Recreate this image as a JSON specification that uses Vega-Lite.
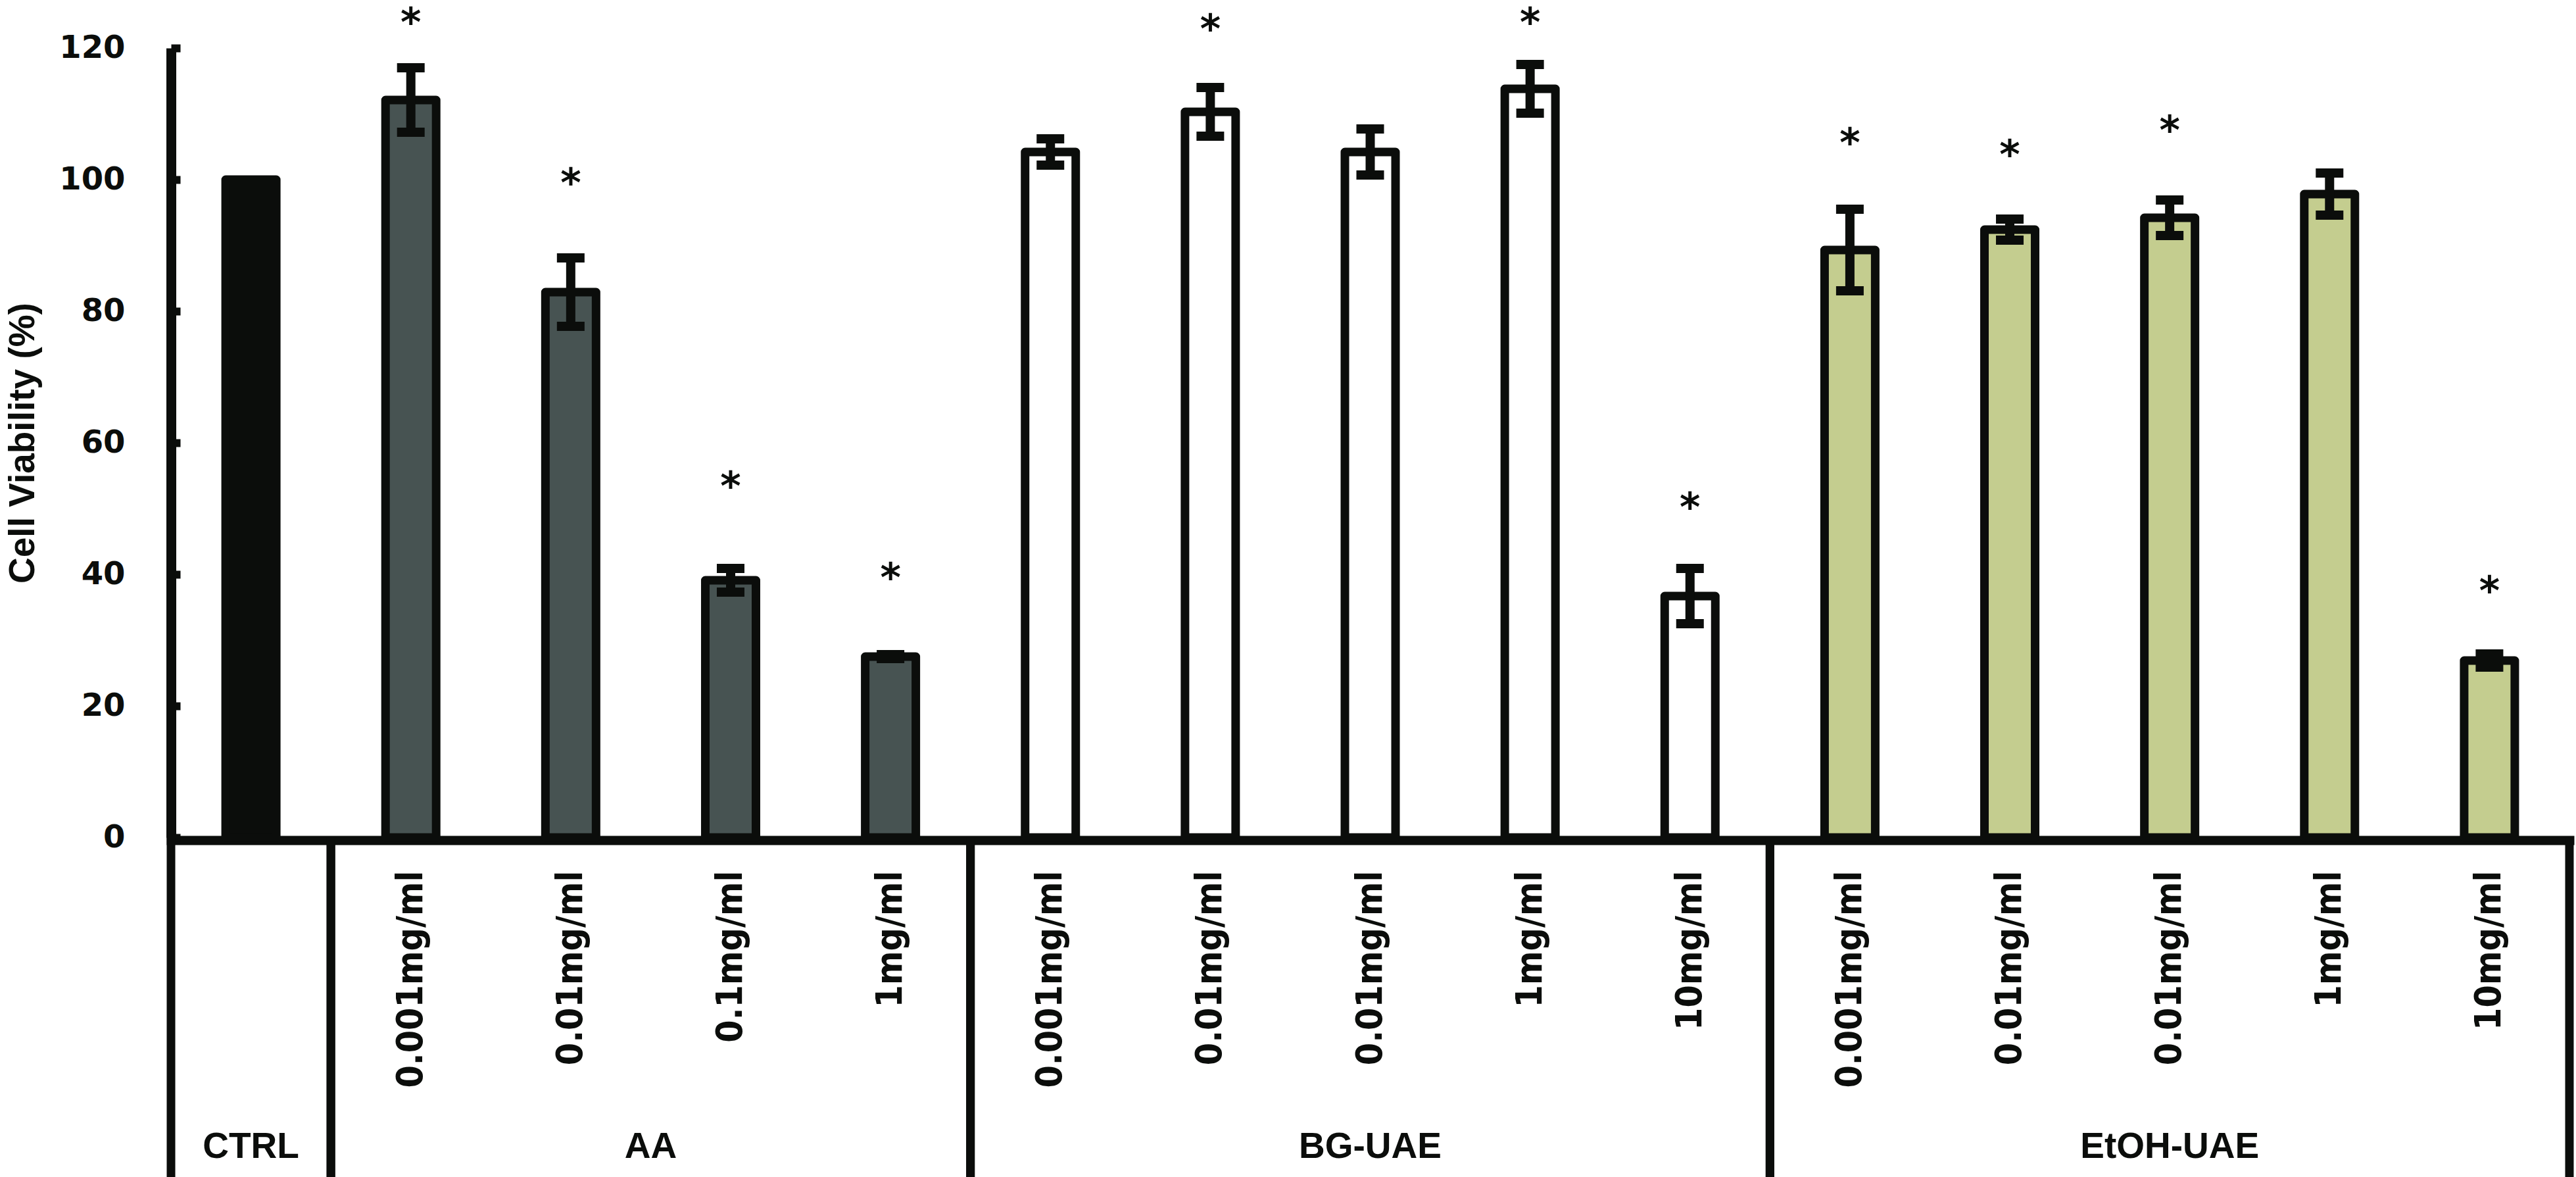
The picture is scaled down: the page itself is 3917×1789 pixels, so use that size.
{
  "$schema": "https://vega.github.io/schema/vega-lite/v6.json",
  "width": 3647,
  "height": 1200,
  "autosize": {"type": "none"},
  "padding": {"left": 260, "top": 73, "right": 10, "bottom": 516},
  "background": "white",
  "config": {"view": {"stroke": null}},
  "datasets": {
    "bars": [
      {"id": "CTRL|", "group": "CTRL", "v": 100, "lo": null, "hi": null, "star": null},
      {"id": "AA1|0.001mg/ml", "group": "AA", "v": 112.1, "lo": 107.2, "hi": 117.0, "star": 124.7},
      {"id": "AA2|0.01mg/ml", "group": "AA", "v": 82.9, "lo": 77.7, "hi": 88.1, "star": 100.3},
      {"id": "AA3|0.1mg/ml", "group": "AA", "v": 39.1, "lo": 37.3, "hi": 40.9, "star": 54.2},
      {"id": "AA4|1mg/ml", "group": "AA", "v": 27.5, "lo": 27.2, "hi": 27.8, "star": 40.3},
      {"id": "BG1|0.001mg/ml", "group": "BG-UAE", "v": 104.2, "lo": 102.2, "hi": 106.2, "star": null},
      {"id": "BG2|0.01mg/ml", "group": "BG-UAE", "v": 110.3, "lo": 106.6, "hi": 114.0, "star": 123.7},
      {"id": "BG3|0.01mg/ml", "group": "BG-UAE", "v": 104.2, "lo": 100.7, "hi": 107.7, "star": null},
      {"id": "BG4|1mg/ml", "group": "BG-UAE", "v": 113.8, "lo": 110.1, "hi": 117.5, "star": 124.7},
      {"id": "BG5|10mg/ml", "group": "BG-UAE", "v": 36.7, "lo": 32.5, "hi": 40.9, "star": 51.0},
      {"id": "E1|0.001mg/ml", "group": "EtOH-UAE", "v": 89.3, "lo": 83.1, "hi": 95.5, "star": 106.4},
      {"id": "E2|0.01mg/ml", "group": "EtOH-UAE", "v": 92.4, "lo": 90.8, "hi": 94.0, "star": 104.6},
      {"id": "E3|0.01mg/ml", "group": "EtOH-UAE", "v": 94.2, "lo": 91.5, "hi": 96.9, "star": 108.3},
      {"id": "E4|1mg/ml", "group": "EtOH-UAE", "v": 97.8, "lo": 94.6, "hi": 101.0, "star": null},
      {"id": "E5|10mg/ml", "group": "EtOH-UAE", "v": 26.9, "lo": 25.9, "hi": 27.9, "star": 38.3}
    ],
    "groups": [
      {"name": "CTRL", "start": 0, "end": 1},
      {"name": "AA", "start": 1, "end": 5},
      {"name": "BG-UAE", "start": 5, "end": 10},
      {"name": "EtOH-UAE", "start": 10, "end": 15}
    ]
  },
  "resolve": {"scale": {"x": "independent"}},
  "layer": [
    {
      "data": {"name": "bars"},
      "encoding": {
        "x": {
          "field": "id",
          "type": "nominal",
          "sort": null,
          "scale": {"paddingInner": 0.6833, "paddingOuter": 0.3417},
          "axis": {
            "title": null,
            "labelExpr": "split(datum.label,'|')[1]",
            "labelAngle": 270,
            "labelFont": "DejaVu Sans Condensed, DejaVu Sans",
            "labelFontWeight": "bold",
            "labelFontSize": 55,
            "labelColor": "#0b0d0b",
            "labelPadding": 46,
            "labelOverlap": false,
            "labelLimit": 0,
            "ticks": false,
            "offset": 4,
            "domainWidth": 14,
            "domainColor": "#0b0d0b",
            "domainCap": "square"
          }
        }
      },
      "layer": [
        {
          "mark": {"type": "bar", "stroke": "#0b0d0b", "strokeWidth": 13, "strokeJoin": "round"},
          "encoding": {
            "y": {
              "field": "v",
              "type": "quantitative",
              "scale": {"domain": [0, 120], "nice": false},
              "axis": {
                "title": "Cell Viability (%)",
                "values": [0, 20, 40, 60, 80, 100, 120],
                "grid": false,
                "tickSize": -14,
                "tickWidth": 12,
                "tickColor": "#0b0d0b",
                "domainWidth": 15,
                "domainColor": "#0b0d0b",
                "labelFont": "DejaVu Sans",
                "labelFontWeight": "bold",
                "labelFontSize": 48,
                "labelColor": "#0b0d0b",
                "labelPadding": 84,
                "titleFont": "Liberation Sans",
                "titleFontWeight": "bold",
                "titleFontSize": 55,
                "titleColor": "#0b0d0b",
                "titlePadding": 26
              }
            },
            "fill": {
              "field": "group",
              "type": "nominal",
              "scale": {"domain": ["CTRL", "AA", "BG-UAE", "EtOH-UAE"], "range": ["#0b0d0b", "#475352", "#ffffff", "#c4cd8f"]},
              "legend": null
            }
          }
        },
        {
          "transform": [{"filter": "isValid(datum.lo)"}],
          "mark": {"type": "rule", "strokeWidth": 14, "color": "#0b0d0b"},
          "encoding": {
            "y": {"field": "lo", "type": "quantitative"},
            "y2": {"field": "hi"}
          }
        },
        {
          "transform": [{"filter": "isValid(datum.lo)"}],
          "mark": {"type": "tick", "thickness": 14, "size": 42, "color": "#0b0d0b", "opacity": 1},
          "encoding": {"y": {"field": "lo", "type": "quantitative"}}
        },
        {
          "transform": [{"filter": "isValid(datum.hi)"}],
          "mark": {"type": "tick", "thickness": 14, "size": 42, "color": "#0b0d0b", "opacity": 1},
          "encoding": {"y": {"field": "hi", "type": "quantitative"}}
        },
        {
          "transform": [{"filter": "isValid(datum.star)"}],
          "mark": {"type": "text", "text": "*", "font": "DejaVu Sans", "fontWeight": "bold", "fontSize": 60, "baseline": "alphabetic", "dy": 29, "color": "#0b0d0b"},
          "encoding": {"y": {"field": "star", "type": "quantitative"}}
        }
      ]
    },
    {
      "data": {"name": "groups"},
      "layer": [
        {
          "mark": {"type": "rule", "strokeWidth": 13, "color": "#0b0d0b"},
          "encoding": {
            "x": {"field": "start", "type": "quantitative", "scale": {"domain": [0, 15], "nice": false}, "axis": null},
            "y": {"datum": 0, "type": "quantitative"},
            "y2": {"datum": -52}
          }
        },
        {
          "mark": {"type": "rule", "strokeWidth": 13, "color": "#0b0d0b"},
          "encoding": {
            "x": {"field": "end", "type": "quantitative", "scale": {"domain": [0, 15], "nice": false}, "axis": null},
            "y": {"datum": 0, "type": "quantitative"},
            "y2": {"datum": -52}
          }
        },
        {
          "transform": [{"calculate": "(datum.start+datum.end)/2", "as": "mid"}],
          "mark": {"type": "text", "font": "Liberation Sans", "fontWeight": "bold", "fontSize": 55, "baseline": "middle", "color": "#0b0d0b"},
          "encoding": {
            "x": {"field": "mid", "type": "quantitative", "scale": {"domain": [0, 15], "nice": false}, "axis": null},
            "y": {"datum": -47, "type": "quantitative"},
            "text": {"field": "name"}
          }
        }
      ]
    }
  ]
}
